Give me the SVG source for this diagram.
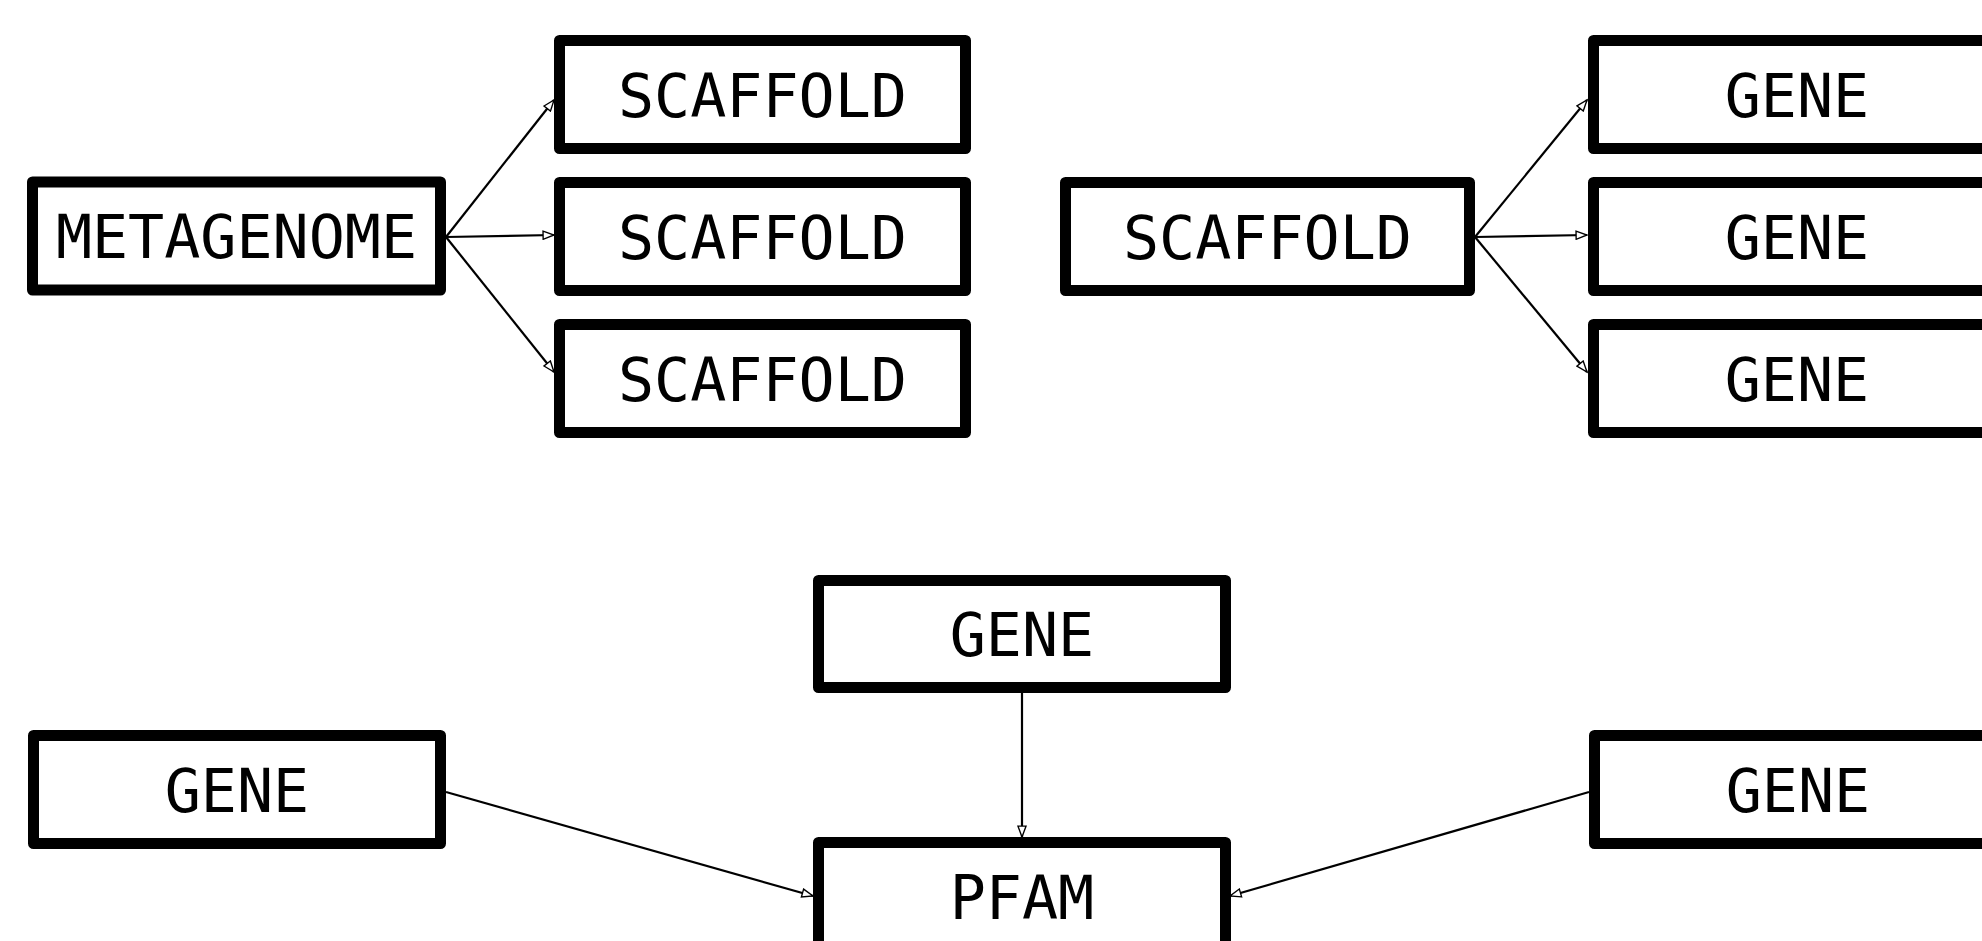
<svg xmlns="http://www.w3.org/2000/svg" width="1982" height="941" viewBox="0 0 1982 941">
<style>
.box{fill:#fff;stroke:#000;stroke-width:11;stroke-linejoin:round}
.lbl{font-family:"DejaVu Sans Mono","Liberation Mono",monospace;font-size:60px;fill:#000;text-anchor:middle}
.edge{fill:none;stroke:#000;stroke-width:2.2;marker-end:url(#arr)}
</style>
<defs>
<marker id="arr" markerUnits="userSpaceOnUse" markerWidth="14" markerHeight="10" refX="12" refY="4.5" orient="auto" viewBox="-1 -1 14 11">
<path d="M0,0 L12,4.5 L0,9 z" fill="#fff" stroke="#000" stroke-width="1.5" stroke-linejoin="miter"/>
</marker>
</defs>
<rect width="1982" height="941" fill="#fff"/>
<g id="connectors">
<line class="edge" x1="446" y1="237" x2="554" y2="100"/>
<line class="edge" x1="446" y1="237" x2="554" y2="235"/>
<line class="edge" x1="446" y1="237" x2="554" y2="372"/>
<line class="edge" x1="1475" y1="237" x2="1587" y2="100"/>
<line class="edge" x1="1475" y1="237" x2="1587" y2="235"/>
<line class="edge" x1="1475" y1="237" x2="1587" y2="372"/>
<line class="edge" x1="1022" y1="693" x2="1022" y2="837"/>
<line class="edge" x1="446" y1="792" x2="813" y2="896"/>
<line class="edge" x1="1589" y1="792" x2="1230" y2="896"/>
</g>
<g id="metagenome"><rect class="box" x="32.5" y="182" width="408" height="108"/><text class="lbl" x="236.5" y="258">METAGENOME</text></g>
<g id="scaffold1"><rect class="box" x="559.5" y="40.5" width="406" height="108"/><text class="lbl" x="762.5" y="117">SCAFFOLD</text></g>
<g id="scaffold2"><rect class="box" x="559.5" y="182.5" width="406" height="108"/><text class="lbl" x="762.5" y="259">SCAFFOLD</text></g>
<g id="scaffold3"><rect class="box" x="559.5" y="324.5" width="406" height="108"/><text class="lbl" x="762.5" y="401">SCAFFOLD</text></g>
<g id="scaffold4"><rect class="box" x="1065.5" y="182.5" width="404" height="108"/><text class="lbl" x="1267.5" y="259">SCAFFOLD</text></g>
<g id="gene1"><rect class="box" x="1593.5" y="40.5" width="407" height="108"/><text class="lbl" x="1797" y="117">GENE</text></g>
<g id="gene2"><rect class="box" x="1593.5" y="182.5" width="407" height="108"/><text class="lbl" x="1797" y="259">GENE</text></g>
<g id="gene3"><rect class="box" x="1593.5" y="324.5" width="407" height="108"/><text class="lbl" x="1797" y="401">GENE</text></g>
<g id="gene4"><rect class="box" x="818.5" y="580.5" width="407" height="107"/><text class="lbl" x="1022" y="656">GENE</text></g>
<g id="gene5"><rect class="box" x="33.5" y="735.5" width="407" height="108"/><text class="lbl" x="237" y="812">GENE</text></g>
<g id="gene6"><rect class="box" x="1594.5" y="735.5" width="407" height="108"/><text class="lbl" x="1798" y="812">GENE</text></g>
<g id="pfam"><rect class="box" x="818.5" y="842.5" width="407" height="108"/><text class="lbl" x="1022" y="919">PFAM</text></g>
</svg>
